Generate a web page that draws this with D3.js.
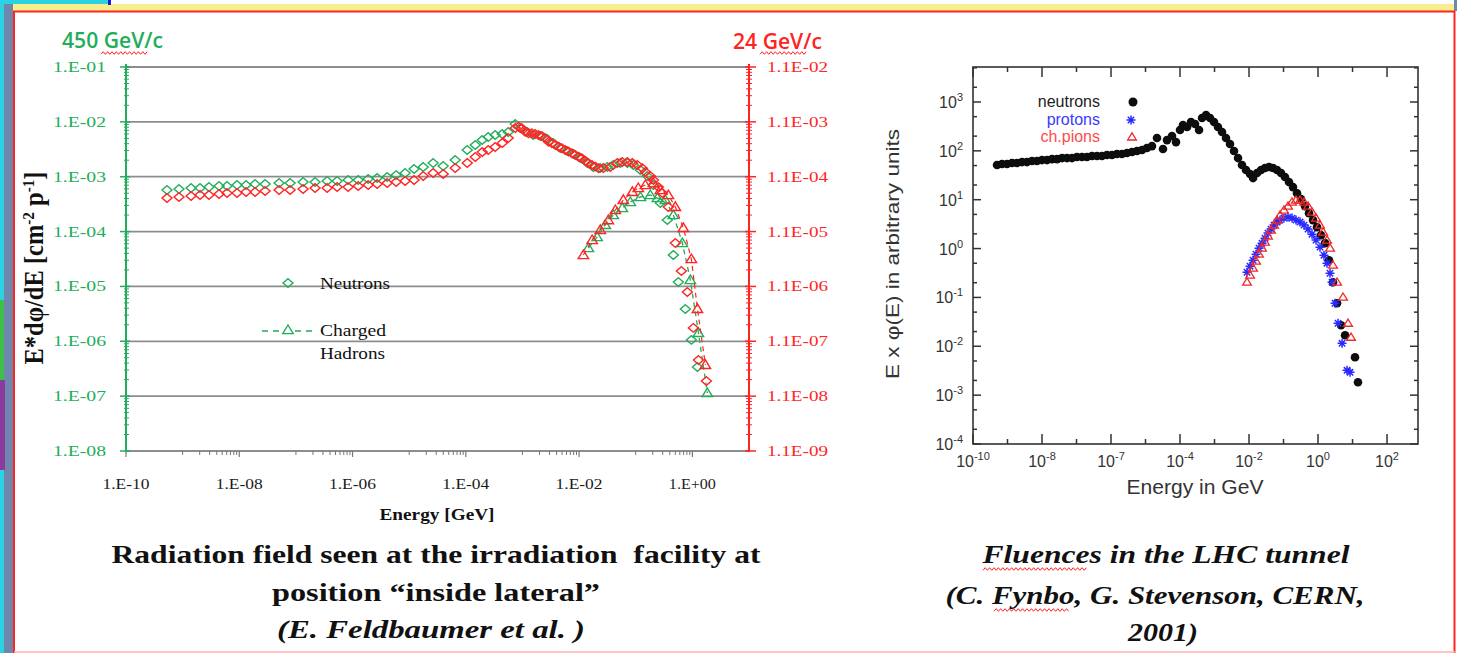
<!DOCTYPE html>
<html><head><meta charset="utf-8">
<script src="https://cdn.jsdelivr.net/npm/d3@7/dist/d3.min.js"></script>
<style>html,body{margin:0;padding:0;background:#fff;overflow:hidden}svg{display:block}</style>
</head><body>
<svg id="chart" width="1457" height="653"></svg>
<script>
// ---------------- LEFT CHART DATA ----------------
const leftYTickValues = [1e-8,1e-7,1e-6,1e-5,1e-4,1e-3,1e-2,1e-1];
const leftYTickLabels = ["1.E-08","1.E-07","1.E-06","1.E-05","1.E-04","1.E-03","1.E-02","1.E-01"];
const rightYTickValues = [1.1e-9,1.1e-8,1.1e-7,1.1e-6,1.1e-5,1.1e-4,1.1e-3,1.1e-2];
const rightYTickLabels = ["1.1E-09","1.1E-08","1.1E-07","1.1E-06","1.1E-05","1.1E-04","1.1E-03","1.1E-02"];
const leftXTickValues = [1e-10,1e-8,1e-6,1e-4,1e-2,1e0];
const leftXTickLabels = ["1.E-10","1.E-08","1.E-06","1.E-04","1.E-02","1.E+00"];

// 450 GeV/c (left axis) neutrons: [E GeV, E*dphi/dE]
const neutrons450 = [[5.30e-10,5.73e-4],[8.63e-10,5.97e-4],[1.41e-9,6.23e-4],[2.03e-9,6.23e-4],[2.92e-9,6.50e-4],[4.40e-9,6.77e-4],[6.08e-9,6.77e-4],[9.14e-9,7.06e-4],[1.32e-8,7.06e-4],[1.90e-8,7.37e-4],[2.86e-8,7.37e-4],[5.05e-8,7.68e-4],[7.91e-8,7.68e-4],[1.34e-7,8.01e-4],[2.18e-7,8.01e-4],[3.56e-7,8.35e-4],[5.35e-7,8.35e-4],[8.36e-7,8.71e-4],[1.26e-6,8.71e-4],[1.89e-6,9.09e-4],[2.72e-6,9.48e-4],[4.09e-6,9.89e-4],[5.89e-6,1.07e-3],[8.49e-6,1.17e-3],[1.22e-5,1.38e-3],[1.77e-5,1.50e-3],[2.65e-5,1.78e-3],[3.99e-5,1.57e-3],[6.50e-5,2.02e-3],[1.06e-4,3.07e-3],[1.47e-4,3.79e-3],[1.95e-4,4.67e-3],[2.49e-4,5.30e-3],[3.30e-4,5.76e-3],[4.40e-4,6.01e-3],[5.61e-4,6.53e-3],[7.46e-4,9.14e-3],[9.15e-4,7.73e-3],[1.22e-3,6.53e-3],[1.55e-3,5.76e-3],[2.06e-3,5.52e-3],[2.74e-3,4.87e-3],[3.50e-3,4.12e-3],[4.66e-3,3.34e-3],[6.19e-3,2.94e-3],[7.91e-3,2.60e-3],[1.05e-2,2.19e-3],[1.40e-2,1.78e-3],[1.78e-2,1.50e-3],[2.37e-2,1.44e-3],[3.15e-2,1.50e-3],[4.02e-2,1.64e-3],[5.35e-2,1.78e-3],[7.11e-2,1.78e-3],[9.08e-2,1.64e-3],[0.121,1.33e-3],[0.160,1.03e-3],[0.205,7.06e-4],[0.272,3.32e-4],[0.362,1.62e-4],[0.462,3.74e-5],[0.566,1.20e-5],[0.752,3.88e-6],[0.960,1.06e-6],[1.23,3.40e-7]];
// 450 GeV/c charged hadrons
const hadrons450 = [[1.46e-2,5.02e-5],[2.08e-2,7.96e-5],[2.90e-2,1.32e-4],[4.02e-2,2.00e-4],[5.80e-2,2.69e-4],[8.03e-2,3.46e-4],[0.121,4.27e-4],[0.181,4.64e-4],[0.241,4.09e-4],[0.333,3.77e-4],[0.462,2.00e-4],[0.666,6.19e-5],[0.922,1.31e-5],[1.28,1.42e-6],[1.84,1.14e-7]];
// 24 GeV/c (right axis) neutrons
const neutrons24 = [[5.30e-10,4.50e-5],[8.63e-10,4.70e-5],[1.41e-9,4.90e-5],[2.03e-9,5.10e-5],[2.92e-9,5.10e-5],[4.40e-9,5.32e-5],[6.08e-9,5.56e-5],[9.14e-9,5.56e-5],[1.32e-8,5.80e-5],[1.90e-8,5.80e-5],[2.86e-8,6.04e-5],[5.05e-8,6.30e-5],[7.91e-8,6.30e-5],[1.34e-7,6.57e-5],[2.18e-7,6.85e-5],[3.56e-7,6.85e-5],[5.35e-7,7.15e-5],[8.36e-7,7.15e-5],[1.26e-6,7.45e-5],[1.89e-6,7.77e-5],[2.72e-6,8.11e-5],[4.09e-6,8.45e-5],[5.89e-6,8.81e-5],[8.49e-6,9.19e-5],[1.22e-5,9.58e-5],[1.77e-5,1.13e-4],[2.65e-5,1.29e-4],[3.99e-5,1.23e-4],[6.50e-5,1.58e-4],[1.06e-4,1.96e-4],[1.47e-4,2.52e-4],[1.95e-4,3.10e-4],[2.49e-4,3.38e-4],[3.30e-4,3.83e-4],[4.40e-4,4.53e-4],[5.61e-4,5.59e-4],[7.46e-4,8.50e-4],[8.53e-4,8.98e-4],[9.79e-4,8.40e-4],[1.12e-3,7.28e-4],[1.28e-3,6.80e-4],[1.47e-3,6.80e-4],[1.68e-3,6.61e-4],[1.92e-3,6.33e-4],[2.21e-3,6.07e-4],[2.53e-3,5.52e-4],[2.89e-3,4.78e-4],[3.32e-3,4.47e-4],[3.80e-3,4.17e-4],[4.35e-3,3.88e-4],[4.99e-3,3.62e-4],[5.70e-3,3.38e-4],[6.53e-3,3.15e-4],[7.50e-3,2.94e-4],[8.57e-3,2.74e-4],[9.79e-3,2.55e-4],[1.12e-2,2.38e-4],[1.29e-2,2.15e-4],[1.47e-2,1.93e-4],[1.69e-2,1.80e-4],[1.93e-2,1.68e-4],[2.21e-2,1.57e-4],[2.68e-2,1.59e-4],[3.56e-2,1.65e-4],[4.73e-2,1.96e-4],[5.79e-2,2.04e-4],[7.11e-2,2.04e-4],[8.71e-2,1.96e-4],[0.107,1.80e-4],[0.131,1.57e-4],[0.148,1.34e-4],[0.181,1.13e-4],[0.205,9.57e-5],[0.251,7.15e-5],[0.295,5.55e-5],[0.377,3.09e-5],[0.501,6.81e-6],[0.640,2.10e-6],[0.816,8.71e-7],[1.04,1.93e-7],[1.28,5.02e-8],[1.77,2.08e-8]];
// 24 GeV/c charged hadrons
const hadrons24 = [[1.19e-2,4.11e-6],[1.70e-2,7.72e-6],[2.37e-2,1.18e-5],[3.28e-2,1.78e-5],[4.37e-2,2.72e-5],[6.04e-2,4.15e-5],[8.71e-2,5.80e-5],[0.111,6.85e-5],[0.148,7.77e-5],[0.205,8.45e-5],[0.272,6.30e-5],[0.377,5.10e-5],[0.501,3.09e-5],[0.693,1.28e-5],[0.960,3.48e-6],[1.23,4.27e-7],[1.70,4.07e-8]];

// ---------------- RIGHT CHART DATA ----------------
const fluenceXTicks = [1e-10,1e-8,1e-6,1e-4,1e-2,1,100];
const fluenceXExp = ["-10","-8","-7","-4","-2","0","2"];
const fluenceYTicks = [1e-4,1e-3,1e-2,1e-1,1,10,100,1000];
const fluenceYExp = ["-4","-3","-2","-1","0","1","2","3"];
const lhcNeutrons = [[4.97e-10,51.2],[6.93e-10,53.7],[9.68e-10,53.7],[1.35e-9,56.3],[1.88e-9,56.3],[2.63e-9,58.9],[3.67e-9,58.9],[5.12e-9,61.8],[7.15e-9,61.8],[1.0e-8,64.7],[1.40e-8,64.7],[1.95e-8,67.8],[2.72e-8,67.8],[3.80e-8,71.1],[5.31e-8,71.1],[7.41e-8,71.1],[1.03e-7,74.6],[1.44e-7,74.6],[2.01e-7,74.6],[2.81e-7,78.2],[3.93e-7,78.2],[5.48e-7,78.2],[7.65e-7,82.0],[1.07e-6,82.0],[1.49e-6,85.9],[2.08e-6,85.9],[2.91e-6,90.1],[4.06e-6,94.4],[5.67e-6,99.0],[7.92e-6,104],[1.10e-5,114],[1.54e-5,125],[2.15e-5,183],[3.21e-5,109],[4.20e-5,166],[5.86e-5,201],[7.65e-5,151],[1.0e-4,267],[1.22e-4,338],[1.60e-4,308],[2.08e-4,389],[2.72e-4,354],[3.56e-4,267],[4.35e-4,470],[5.68e-4,542],[7.41e-4,470],[9.68e-4,389],[1.26e-3,308],[1.65e-3,243],[2.15e-3,183],[2.81e-3,138],[3.67e-3,99.0],[4.80e-3,71.1],[6.26e-3,51.2],[8.18e-3,40.5],[1.07e-2,33.5],[1.31e-2,27.7],[1.71e-2,35.1],[2.23e-2,40.5],[2.91e-2,44.5],[3.80e-2,46.6],[4.97e-2,44.5],[6.49e-2,40.5],[8.47e-2,35.1],[0.110,29.1],[0.144,23.0],[0.188,18.1],[0.246,13.6],[0.321,10.3],[0.420,7.39],[0.548,5.31],[0.716,3.82],[0.935,2.75],[1.22,1.88],[1.60,1.29],[2.08,0.578],[2.72,0.205],[3.56,0.076],[4.65,0.0269],[6.07,0.0168],[11.8,5.95e-3],[14.4,1.83e-3]];
const lhcProtons = [[8.75e-3,0.328],[1.07e-2,0.436],[1.31e-2,0.578],[1.60e-2,0.767],[1.95e-2,1.02],[2.38e-2,1.29],[2.91e-2,1.63],[3.56e-2,2.07],[4.35e-2,2.50],[5.31e-2,3.02],[6.49e-2,3.48],[7.92e-2,3.82],[0.103,4.20],[0.135,4.40],[0.176,4.20],[0.230,3.82],[0.301,3.48],[0.393,3.02],[0.513,2.50],[0.670,1.97],[0.875,1.49],[1.14,1.07],[1.49,0.733],[1.82,0.502],[2.23,0.313],[2.55,0.205],[3.11,0.076],[3.80,0.0296],[4.97,0.0115],[6.93,3.22e-3],[8.47,2.93e-3]];
const lhcPions = [[8.75e-3,0.205],[1.07e-2,0.285],[1.31e-2,0.396],[1.60e-2,0.552],[1.95e-2,0.767],[2.38e-2,1.02],[2.91e-2,1.35],[3.56e-2,1.79],[4.35e-2,2.38],[5.31e-2,3.02],[6.49e-2,3.82],[7.92e-2,4.83],[0.103,6.12],[0.135,7.39],[0.176,8.93],[0.230,9.82],[0.301,9.82],[0.393,8.93],[0.513,7.39],[0.670,5.57],[0.875,4.20],[1.14,3.02],[1.40,2.17],[1.82,1.49],[2.23,1.02],[2.72,0.457],[3.56,0.205],[5.31,0.101],[7.41,0.0296],[9.05,0.0153]];

// ---------------- DRAWING ----------------
const svg = d3.select("#chart");
const SERIF = "'Liberation Serif','Times New Roman',serif";
const SANS = "'Liberation Sans',Arial,sans-serif";
const GREEN = "#22ad5a", RED = "#ff2424";

// page frame
svg.append("rect").attr("width",1457).attr("height",653).attr("fill","#fff");
svg.append("rect").attr("x",13).attr("y",4).attr("width",1442).attr("height",7).attr("fill","#f8ef8c");
svg.append("rect").attr("x",0).attr("y",0).attr("width",4).attr("height",653).attr("fill","#2ad2e2");
svg.append("rect").attr("x",4).attr("y",0).attr("width",9).attr("height",653).attr("fill","#6f87ad");
svg.append("rect").attr("x",0).attr("y",300).attr("width",4).attr("height",80).attr("fill","#3fbf4a");
svg.append("rect").attr("x",0).attr("y",380).attr("width",5).attr("height",90).attr("fill","#8c3a9e");
svg.append("rect").attr("x",0).attr("y",0).attr("width",108).attr("height",4).attr("fill","#2ad2e2");
svg.append("rect").attr("x",108).attr("y",0).attr("width",3).attr("height",5).attr("fill","#1b1bd6");
svg.append("rect").attr("x",1454).attr("y",0).attr("width",3).attr("height",11).attr("fill","#6f87ad");
const frame = svg.append("g").attr("fill","none");
frame.append("line").attr("x1",13).attr("x2",1455).attr("y1",11.5).attr("y2",11.5).attr("stroke",RED).attr("stroke-width",2);
frame.append("line").attr("x1",14).attr("x2",14).attr("y1",11).attr("y2",653).attr("stroke",RED).attr("stroke-width",2);
frame.append("line").attr("x1",1454.5).attr("x2",1454.5).attr("y1",11).attr("y2",653).attr("stroke",RED).attr("stroke-width",2);
frame.append("line").attr("x1",14).attr("x2",1455).attr("y1",652).attr("y2",652).attr("stroke","#ffb0b0").attr("stroke-width",1.5);

function wavy(x1, x2, y) {
  const pts = d3.range(x1, x2 + 0.1, 2.2).map((x, i) => [x, y + (i % 2 ? -1.3 : 1.3)]);
  svg.append("path").attr("d", d3.line()(pts)).attr("fill","none").attr("stroke","#ff2020").attr("stroke-width",1);
}

// ===== LEFT CHART =====
const xL = d3.scaleLog().domain([1e-10, 10]).range([126, 749]);
const yL = d3.scaleLog().domain([1e-8, 1e-1]).range([451, 67]);
const yR = d3.scaleLog().domain([1.1e-9, 1.1e-2]).range([451, 67]);
const gL = svg.append("g");

// gridlines
gL.selectAll(".grid").data(leftYTickValues.slice(1)).join("line")
  .attr("x1",126).attr("x2",749).attr("y1",d=>yL(d)).attr("y2",d=>yL(d))
  .attr("stroke","#8d8d8d").attr("stroke-width",1.8);
// x axis
gL.append("line").attr("x1",126).attr("x2",749).attr("y1",451).attr("y2",451).attr("stroke","#8d8d8d").attr("stroke-width",1.8);
const xMinorL = [];
leftXTickValues.slice(1).forEach(m => { for (let k = 1; k <= 9; k++) xMinorL.push(k * m / 10); });
gL.selectAll(".xmin").data(xMinorL).join("line")
  .attr("x1",d=>xL(d)).attr("x2",d=>xL(d)).attr("y1",451).attr("y2",455)
  .attr("stroke","#777").attr("stroke-width",1);
gL.selectAll(".xmaj").data(leftXTickValues).join("line")
  .attr("x1",d=>xL(d)).attr("x2",d=>xL(d)).attr("y1",451).attr("y2",457)
  .attr("stroke","#777").attr("stroke-width",1.2);
gL.selectAll(".xlab").data(leftXTickValues).join("text")
  .attr("x",d=>xL(d)).attr("y",489).attr("text-anchor","middle")
  .attr("font-family",SERIF).attr("font-size",15).attr("fill","#1a1a1a")
  .attr("textLength",47).attr("lengthAdjust","spacingAndGlyphs")
  .text((d,i)=>leftXTickLabels[i]);

// left y axis (green)
gL.append("line").attr("x1",126).attr("x2",126).attr("y1",64).attr("y2",452).attr("stroke",GREEN).attr("stroke-width",2);
const yMinorL = [];
leftYTickValues.slice(0,-1).forEach(m => { for (let k = 2; k <= 9; k++) yMinorL.push(k * m); });
gL.selectAll(".ymin").data(yMinorL).join("line")
  .attr("x1",124).attr("x2",129).attr("y1",d=>yL(d)).attr("y2",d=>yL(d))
  .attr("stroke",GREEN).attr("stroke-width",1);
gL.selectAll(".ymaj").data(leftYTickValues).join("line")
  .attr("x1",120).attr("x2",130).attr("y1",d=>yL(d)).attr("y2",d=>yL(d))
  .attr("stroke",GREEN).attr("stroke-width",1.5);
gL.selectAll(".ylab").data(leftYTickValues).join("text")
  .attr("x",106).attr("y",d=>yL(d)+5).attr("text-anchor","end")
  .attr("font-family",SERIF).attr("font-size",15).attr("fill",GREEN)
  .attr("textLength",53).attr("lengthAdjust","spacingAndGlyphs")
  .text((d,i)=>leftYTickLabels[i]);

// right y axis (red)
gL.append("line").attr("x1",749).attr("x2",749).attr("y1",64).attr("y2",452).attr("stroke",RED).attr("stroke-width",2);
const yMinorR = [];
rightYTickValues.slice(0,-1).forEach(m => { for (let k = 2; k <= 9; k++) yMinorR.push(k * m); });
gL.selectAll(".yminr").data(yMinorR).join("line")
  .attr("x1",746).attr("x2",752).attr("y1",d=>yR(d)).attr("y2",d=>yR(d))
  .attr("stroke",RED).attr("stroke-width",1);
gL.selectAll(".ymajr").data(rightYTickValues).join("line")
  .attr("x1",745).attr("x2",756).attr("y1",d=>yR(d)).attr("y2",d=>yR(d))
  .attr("stroke",RED).attr("stroke-width",1.5);
gL.selectAll(".ylabr").data(rightYTickValues).join("text")
  .attr("x",767).attr("y",d=>yR(d)+5).attr("text-anchor","start")
  .attr("font-family",SERIF).attr("font-size",15).attr("fill",RED)
  .attr("textLength",61).attr("lengthAdjust","spacingAndGlyphs")
  .text((d,i)=>rightYTickLabels[i]);

// axis titles
svg.append("text").attr("x",62).attr("y",48).attr("font-family","'Open Sans',sans-serif").attr("font-weight",600)
  .attr("font-size",21).attr("fill",GREEN).attr("textLength",101).attr("lengthAdjust","spacingAndGlyphs").text("450 GeV/c");
wavy(101, 149, 53);
svg.append("text").attr("x",733).attr("y",49).attr("font-family","'Open Sans',sans-serif").attr("font-weight",600)
  .attr("font-size",21).attr("fill",RED).attr("textLength",89).attr("lengthAdjust","spacingAndGlyphs").text("24 GeV/c");
wavy(760, 807, 53);

const ylab = svg.append("text").attr("transform","translate(43,268) scale(1.35,1) rotate(-90)")
  .attr("text-anchor","middle").attr("font-family",SERIF).attr("font-weight","bold").attr("font-size",21)
  .attr("fill","#111").attr("textLength",193).attr("lengthAdjust","spacingAndGlyphs");
ylab.append("tspan").text("E*dφ/dE [cm");
ylab.append("tspan").attr("dy",-7).attr("font-size",13).text("-2");
ylab.append("tspan").attr("dy",7).text(" p");
ylab.append("tspan").attr("dy",-7).attr("font-size",13).text("-1");
ylab.append("tspan").attr("dy",7).text("]");

svg.append("text").attr("x",437).attr("y",520).attr("text-anchor","middle").attr("font-family",SERIF)
  .attr("font-weight","bold").attr("font-size",16).attr("fill","#111")
  .attr("textLength",115).attr("lengthAdjust","spacingAndGlyphs").text("Energy [GeV]");

// markers
const diamondPath = "M0,-4.3L5,0L0,4.3L-5,0Z";
const triPath = "M0,-5L5.2,3.6L-5.2,3.6Z";
const lineL = d3.line().x(d=>xL(d[0])).y(d=>yL(d[1]));
const lineR = d3.line().x(d=>xL(d[0])).y(d=>yR(d[1]));

gL.append("path").attr("d",lineL(hadrons450)).attr("fill","none").attr("stroke",GREEN).attr("stroke-width",1.3).attr("stroke-dasharray","5,4");
gL.selectAll(".n450").data(neutrons450).join("path").attr("d",diamondPath)
  .attr("transform",d=>`translate(${xL(d[0])},${yL(d[1])})`)
  .attr("fill","none").attr("stroke",GREEN).attr("stroke-width",1.4);
gL.selectAll(".h450").data(hadrons450).join("path").attr("d",triPath)
  .attr("transform",d=>`translate(${xL(d[0])},${yL(d[1])})`)
  .attr("fill","none").attr("stroke",GREEN).attr("stroke-width",1.4);
gL.append("path").attr("d",lineR(hadrons24)).attr("fill","none").attr("stroke",RED).attr("stroke-width",1.2).attr("stroke-dasharray","5,4");
gL.selectAll(".n24").data(neutrons24).join("path").attr("d",diamondPath)
  .attr("transform",d=>`translate(${xL(d[0])},${yR(d[1])})`)
  .attr("fill","none").attr("stroke",RED).attr("stroke-width",1.4);
gL.selectAll(".h24").data(hadrons24).join("path").attr("d",triPath)
  .attr("transform",d=>`translate(${xL(d[0])},${yR(d[1])})`)
  .attr("fill","none").attr("stroke",RED).attr("stroke-width",1.4);

// legend
const lg = svg.append("g");
lg.append("path").attr("d",diamondPath).attr("transform","translate(288,283)").attr("fill","none").attr("stroke",GREEN).attr("stroke-width",1.4);
lg.append("line").attr("x1",262).attr("x2",312).attr("y1",331).attr("y2",331).attr("stroke",GREEN).attr("stroke-width",1.4).attr("stroke-dasharray","6,5");
lg.append("path").attr("d",triPath).attr("transform","translate(288,330)").attr("fill","#fff").attr("stroke",GREEN).attr("stroke-width",1.4);
[["Neutrons",289,70],["Charged",336,66],["Hadrons",359,65]].forEach(([t,y,w]) =>
  lg.append("text").attr("x",320).attr("y",y).attr("font-family",SERIF).attr("font-size",16).attr("fill","#111")
    .attr("textLength",w).attr("lengthAdjust","spacingAndGlyphs").text(t));

// titles under left chart
const titleL = [
  {t:"Radiation field seen at the irradiation  facility at", x:436, y:563, w:649, it:false},
  {t:"position “inside lateral”", x:436, y:601, w:328, it:false},
  {t:"(E. Feldbaumer et al. )", x:431, y:638, w:308, it:true}
];
titleL.forEach(d => svg.append("text").attr("x",d.x).attr("y",d.y).attr("text-anchor","middle")
  .attr("font-family",SERIF).attr("font-weight","bold").attr("font-style",d.it?"italic":"normal")
  .attr("font-size",25).attr("fill","#111").attr("textLength",d.w).attr("lengthAdjust","spacingAndGlyphs")
  .attr("xml:space","preserve").text(d.t));

// ===== RIGHT CHART =====
const xF = d3.scaleLog().domain([1e-10, 7.9e2]).range([973, 1418]);
const yF = d3.scaleLog().domain([1e-4, 5.2e3]).range([444, 67]);
const gR = svg.append("g");
const INK = "#333";

// minor/major ticks (inside, on all four sides)
const xMinorF = [1e-9,1e-7,1e-5,1e-3,1e-1,10];
const yMinorF = [];
fluenceYTicks.forEach(m => [2,5].forEach(k => { if (k*m <= 5.2e3) yMinorF.push(k*m); }));
const tickG = gR.append("g").attr("stroke",INK).attr("stroke-width",1.5);
fluenceXTicks.forEach(v => {
  tickG.append("line").attr("x1",xF(v)).attr("x2",xF(v)).attr("y1",444).attr("y2",434);
  tickG.append("line").attr("x1",xF(v)).attr("x2",xF(v)).attr("y1",67).attr("y2",77);
});
xMinorF.forEach(v => {
  tickG.append("line").attr("x1",xF(v)).attr("x2",xF(v)).attr("y1",444).attr("y2",439);
  tickG.append("line").attr("x1",xF(v)).attr("x2",xF(v)).attr("y1",67).attr("y2",72);
});
fluenceYTicks.forEach(v => {
  tickG.append("line").attr("x1",973).attr("x2",981).attr("y1",yF(v)).attr("y2",yF(v));
  tickG.append("line").attr("x1",1418).attr("x2",1410).attr("y1",yF(v)).attr("y2",yF(v));
});
yMinorF.forEach(v => {
  tickG.append("line").attr("x1",973).attr("x2",977).attr("y1",yF(v)).attr("y2",yF(v));
  tickG.append("line").attr("x1",1418).attr("x2",1414).attr("y1",yF(v)).attr("y2",yF(v));
});
gR.append("rect").attr("x",973).attr("y",67).attr("width",445).attr("height",377)
  .attr("fill","none").attr("stroke",INK).attr("stroke-width",1.6);

// tick labels
fluenceXTicks.forEach((v,i) => {
  const t = gR.append("text").attr("x",xF(v)).attr("y",467).attr("text-anchor","middle")
    .attr("font-family",SANS).attr("font-size",16).attr("fill",INK);
  t.append("tspan").text("10");
  t.append("tspan").attr("dy",-7).attr("font-size",11).text(fluenceXExp[i]);
});
fluenceYTicks.forEach((v,i) => {
  const t = gR.append("text").attr("x",963).attr("y",yF(v)+6).attr("text-anchor","end")
    .attr("font-family",SANS).attr("font-size",16).attr("fill",INK);
  t.append("tspan").text("10");
  t.append("tspan").attr("dy",-7).attr("font-size",11).text(fluenceYExp[i]);
});
gR.append("text").attr("x",1195).attr("y",494).attr("text-anchor","middle").attr("font-family",SANS)
  .attr("font-size",20).attr("fill",INK).attr("textLength",137).attr("lengthAdjust","spacingAndGlyphs").text("Energy in GeV");
gR.append("text").attr("transform","translate(899,254) rotate(-90)").attr("text-anchor","middle").attr("font-family",SANS)
  .attr("font-size",19).attr("fill",INK).attr("textLength",250).attr("lengthAdjust","spacingAndGlyphs").text("E x φ(E) in arbitrary units");

// data
const starPath = "M-4.5,0L4.5,0M0,-4.5L0,4.5M-3.2,-3.2L3.2,3.2M-3.2,3.2L3.2,-3.2";
const triSmall = "M0,-4.2L4.4,3L-4.4,3Z";
gR.selectAll(".ln").data(lhcNeutrons).join("circle")
  .attr("cx",d=>xF(d[0])).attr("cy",d=>yF(d[1])).attr("r",4.3).attr("fill","#0d0d0d");
gR.selectAll(".lp").data(lhcProtons).join("path").attr("d",starPath)
  .attr("transform",d=>`translate(${xF(d[0])},${yF(d[1])})`).attr("stroke","#2a2aff").attr("stroke-width",1.5).attr("fill","none");
gR.selectAll(".lpi").data(lhcPions).join("path").attr("d",triSmall)
  .attr("transform",d=>`translate(${xF(d[0])},${yF(d[1])})`).attr("stroke","#ee2a2a").attr("stroke-width",1.3).attr("fill","none");

// legend right
const legR = [["neutrons","#222",102],["protons","#3a3aff",120],["ch.pions","#ff4a4a",137]];
legR.forEach(([t,c,y]) => gR.append("text").attr("x",1100).attr("y",y+5).attr("text-anchor","end")
  .attr("font-family",SANS).attr("font-size",16).attr("fill",c).text(t));
gR.append("circle").attr("cx",1133).attr("cy",102).attr("r",4.5).attr("fill","#0d0d0d");
gR.append("path").attr("d",starPath).attr("transform","translate(1131,120)").attr("stroke","#2a2aff").attr("stroke-width",1.5);
gR.append("path").attr("d",triSmall).attr("transform","translate(1132,137)").attr("stroke","#ee2a2a").attr("stroke-width",1.3).attr("fill","none");

// titles under right chart
const titleR = [
  {t:"Fluences in the LHC tunnel", x:1166, y:563, w:367},
  {t:"(C. Fynbo, G. Stevenson, CERN,", x:1155, y:604, w:419},
  {t:"2001)", x:1163, y:641, w:70}
];
titleR.forEach(d => svg.append("text").attr("x",d.x).attr("y",d.y).attr("text-anchor","middle")
  .attr("font-family",SERIF).attr("font-weight","bold").attr("font-style","italic")
  .attr("font-size",25).attr("fill","#111").attr("textLength",d.w).attr("lengthAdjust","spacingAndGlyphs").text(d.t));
wavy(983, 1087, 569);
wavy(994, 1070, 610);
</script>
</body></html>
